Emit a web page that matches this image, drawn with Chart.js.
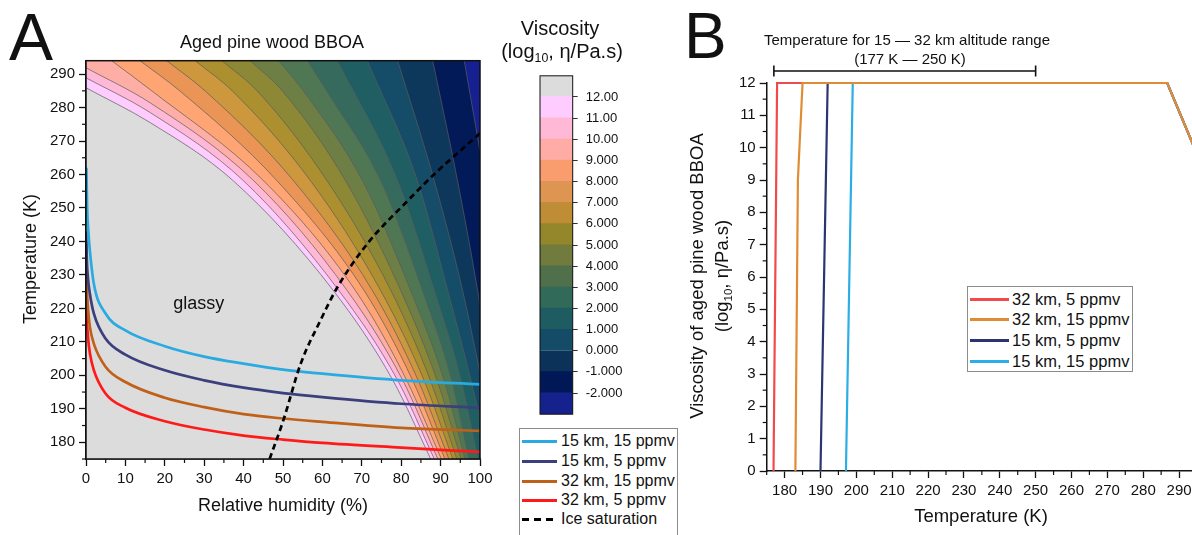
<!DOCTYPE html>
<html>
<head>
<meta charset="utf-8">
<script src="https://cdn.jsdelivr.net/npm/chart.js@4.4.1/dist/chart.umd.min.js"></script>
<style>
html, body { margin: 0; padding: 0; background: #fff; overflow: hidden; }
#page { position: relative; width: 1192px; height: 535px; overflow: hidden; font-family: "Liberation Sans", Arial, sans-serif; color: #111; }
canvas { position: absolute; }
.t { position: absolute; white-space: nowrap; line-height: 1; }
.c { transform: translateX(-50%); }
.r { transform: translate(-50%, -50%) rotate(-90deg); }
sub { font-size: 0.62em; vertical-align: baseline; position: relative; top: 0.32em; line-height: 0; }
.legend { position: absolute; border: 1px solid #8c8c8c; background: #fff; box-sizing: border-box; }
.legend .row { position: absolute; white-space: nowrap; line-height: 1; }
.legend .sw { position: absolute; height: 3px; }
</style>
</head>
<body>
<div id="page">
  <canvas id="chartA" width="500" height="535" style="left:0;top:0"></canvas>
  <canvas id="colorbar" width="110" height="370" style="left:530px;top:60px"></canvas>
  <canvas id="chartB" width="517" height="535" style="left:680px;top:0"></canvas>

  <div class="t" style="left:9px;top:4px;font-size:66px">A</div>
  <div class="t" style="left:684px;top:4px;font-size:64px">B</div>
  <div class="t c" style="left:272px;top:33px;font-size:18px">Aged pine wood BBOA</div>
  <div class="t c" style="left:560px;top:18px;font-size:20px">Viscosity</div>
  <div class="t c" style="left:562px;top:41px;font-size:20px">(log<sub>10</sub>, η/Pa.s)</div>
  <div class="t c" style="left:283px;top:496px;font-size:18px">Relative humidity (%)</div>
  <div class="t r" style="left:30px;top:259px;font-size:18px">Temperature (K)</div>

  <div class="t c" style="left:907px;top:32px;font-size:15px">Temperature for 15 — 32 km altitude range</div>
  <div class="t c" style="left:910px;top:51px;font-size:15px">(177 K — 250 K)</div>
  <div class="t c" style="left:981px;top:507px;font-size:18.5px">Temperature (K)</div>
  <div class="t r" style="left:697px;top:276px;font-size:18.5px">Viscosity of aged pine wood BBOA</div>
  <div class="t r" style="left:722px;top:276px;font-size:18.5px">(log<sub>10</sub>, η/Pa.s)</div>

  <div id="legendA" class="legend" style="left:519px;top:428px;width:159px;height:120px"></div>
  <div id="legendB" class="legend" style="left:967px;top:286px;width:166px;height:86px"></div>
</div>

<script>
const FONT = '"Liberation Sans", Arial, sans-serif';
Chart.defaults.font.family = FONT;
Chart.defaults.color = '#111';

// ---------- panel A: RH / temperature map ----------
const rhTicks = [0, 10, 20, 30, 40, 50, 60, 70, 80, 90, 100];
const tempTicksA = [180, 190, 200, 210, 220, 230, 240, 250, 260, 270, 280, 290];
const rhMin = 0, rhMax = 100, tempMinA = 175, tempMaxA = 294;

// viscosity contour lines as [RH %, T K], from the glassy edge outwards
const contours = [
  [[0, 285.9], [16.3, 275.5], [37.4, 258.1], [62.8, 225.3], [77.9, 198.5], [87.5, 175]],
  [[0, 288.9], [16.3, 278.5], [40.0, 258.1], [64.2, 225.3], [79.1, 198.5], [88.4, 175]],
  [[0, 291.9], [16.3, 281.4], [42.6, 258.1], [66.3, 225.3], [80.4, 198.5], [89.3, 175]],
  [[6.5, 294], [16.8, 284.9], [45.1, 258.1], [68.4, 225.3], [81.4, 198.5], [90.2, 175]],
  [[13.7, 294], [23.9, 284.9], [48.5, 258.1], [70.6, 225.3], [82.9, 198.5], [91.1, 175]],
  [[20.5, 294], [30.3, 284.9], [52.7, 258.1], [72.7, 225.3], [84.3, 198.5], [92.1, 175]],
  [[27.7, 294], [37.2, 284.9], [57.0, 258.1], [74.8, 225.3], [85.8, 198.5], [93.1, 175]],
  [[34.5, 294], [43.5, 284.9], [61.2, 258.1], [77.4, 225.3], [87.4, 198.5], [94.1, 175]],
  [[41.7, 294], [49.9, 284.9], [65.9, 258.1], [79.9, 225.3], [89.1, 198.5], [95.2, 175]],
  [[48.9, 294], [55.2, 284.9], [70.2, 258.1], [82.4, 225.3], [90.9, 198.5], [96.2, 175]],
  [[56.2, 294], [61.1, 284.9], [74.8, 258.1], [85.4, 225.3], [92.8, 198.5], [97.2, 175]],
  [[63.8, 294], [79.1, 258.1], [88.4, 225.3], [95.2, 198.5], [99.5, 175]],
  [[71.4, 294], [84.1, 258.1], [91.8, 225.3], [97.7, 198.5], [100, 186.9]],
  [[79.1, 294], [88.4, 258.1], [95.6, 225.3], [100, 200.9]],
  [[88.0, 294], [94.3, 258.1], [99.4, 225.3], [100, 220.8]],
  [[96.0, 294], [100, 267]]
];
// colour of each band, glassy first
const bandColors = ['#DCDCDC', '#FFCCFF', '#FFB9D6', '#FFAEA6', '#FFA473', '#EA9556', '#CD973E', '#AC9030',
  '#8C8836', '#6E7F45', '#4F7753', '#356A5C', '#1F5E63', '#154D69', '#0D385C', '#021B58', '#172090'];

const t15km15ppmv = [[0.1, 262], [0.3, 250], [0.6, 243], [1, 237], [2, 227.3], [5, 218.4], [10, 213.4], [20, 208.7], [30, 205.6], [40, 203.5], [50, 201.7], [60, 200.5], [80, 198.5], [100, 197.3]];
const t15km5ppmv = [[0.05, 243], [0.2, 235], [0.5, 229], [1, 224.3], [2, 218.4], [5, 210.9], [10, 206.2], [20, 201.5], [30, 198.5], [40, 196.3], [50, 194.7], [60, 193.5], [80, 191.5], [100, 190.3]];
const t32km15ppmv = [[0.05, 234], [0.2, 226.5], [0.5, 220], [1, 214.4], [2, 209.4], [5, 202.5], [10, 198], [20, 193.3], [30, 190.5], [40, 188.4], [50, 187.1], [60, 186.1], [80, 184.3], [100, 183.4]];
const t32km5ppmv = [[0.05, 224], [0.2, 217], [0.5, 211.5], [1, 206.5], [2, 201.5], [5, 194.5], [10, 190.3], [20, 186.3], [30, 183.8], [40, 182], [50, 180.8], [60, 179.8], [80, 178.4], [100, 177.1]];
const iceSaturation = [[46.6, 175], [50.1, 186.6], [54.5, 203.5], [59.5, 216.4], [63.8, 226.3], [71.4, 239.3], [81.6, 252.1], [88.4, 260.1], [100, 272.3]];
const glassyAt = [28.6, 219.7];

const seriesA = [
  {label: '15 km, 15 ppmv', color: '#29ABE2', data: t15km15ppmv},
  {label: '15 km, 5 ppmv', color: '#3B3F7D', data: t15km5ppmv},
  {label: '32 km, 15 ppmv', color: '#C0611A', data: t32km15ppmv},
  {label: '32 km, 5 ppmv', color: '#FF1A1A', data: t32km5ppmv},
  {label: 'Ice saturation', color: '#000', data: iceSaturation, dash: [6, 4]}
];

// ---------- colour bar ----------
const cbLevels = [-2, -1, 0, 1, 2, 3, 4, 5, 6, 7, 8, 9, 10, 11, 12];
const cbEdges = [-3, -2, -1, 0, 1, 2, 3, 4, 5, 6, 7, 8, 9, 10, 11, 12, 13];
const cbColors = ['#15228E', '#011857', '#0B3258', '#144B66', '#1E5C61', '#326A59', '#506F4B', '#707B3D',
  '#94862B', '#BE8D35', '#DF9552', '#F99D6F', '#FFACA6', '#FFB9D6', '#FFCCFF', '#DCDCDC'];

// ---------- panel B: viscosity vs temperature ----------
const tempTicksB = [180, 190, 200, 210, 220, 230, 240, 250, 260, 270, 280, 290];
const viscTicks = [0, 1, 2, 3, 4, 5, 6, 7, 8, 9, 10, 11, 12];
const altitudeRangeK = [177, 250];
const v32km5ppmv = [[176.9, 0], [177.9, 12], [286.7, 12], [295, 9.8]];
const v32km15ppmv = [[183.0, 0], [183.7, 9], [185.0, 12], [286.7, 12], [295, 9.8]];
const v15km5ppmv = [[190.0, 0], [192.0, 12], [286.7, 12], [295, 9.8]];
const v15km15ppmv = [[197.1, 0], [199.0, 12], [286.7, 12], [295, 9.8]];

const seriesB = [
  {label: '32 km, 5 ppmv', color: '#F24A4A', data: v32km5ppmv, order: 3},
  {label: '32 km, 15 ppmv', color: '#E08C35', data: v32km15ppmv, order: 0},
  {label: '15 km, 5 ppmv', color: '#2C3471', data: v15km5ppmv, order: 2},
  {label: '15 km, 15 ppmv', color: '#2BAEE5', data: v15km15ppmv, order: 1}
];

// ---------- helpers ----------
const pts = arr => arr.map(([x, y]) => ({x, y}));
const fixedTicks = list => scale => { scale.ticks = list.map(v => ({value: v})); };

function axis(ticks, min, max, extra) {
  return Object.assign({
    type: 'linear', min, max,
    afterBuildTicks: fixedTicks(ticks),
    grid: {drawOnChartArea: false, tickLength: 7, tickColor: '#111', tickWidth: 1.3},
    border: {display: true, color: '#111', width: 1.5},
    ticks: {font: {size: 15}, color: '#111', autoSkip: false, maxRotation: 0, padding: 4}
  }, extra);
}

const frame = {
  id: 'frame',
  afterDatasetsDraw(chart, args, opts) {
    const a = chart.chartArea, ctx = chart.ctx;
    ctx.save();
    ctx.strokeStyle = '#111';
    ctx.lineWidth = opts.width || 1.5;
    ctx.strokeRect(a.left, a.top, a.right - a.left, a.bottom - a.top);
    ctx.restore();
  }
};

const minorTicks = {
  id: 'minorTicks',
  afterDraw(chart) {
    const ctx = chart.ctx;
    ctx.save();
    ctx.strokeStyle = '#111';
    ctx.lineWidth = 1.2;
    ['x', 'y'].forEach(id => {
      const s = chart.scales[id];
      const v = s.ticks.map(t => t.value);
      const step = v[1] - v[0];
      for (let m = v[0] - step / 2; m <= s.max; m += step) {
        if (m < s.min) continue;
        const p = s.getPixelForValue(m);
        ctx.beginPath();
        if (id === 'x') { ctx.moveTo(p, s.top); ctx.lineTo(p, s.top + 4); }
        else { ctx.moveTo(s.right, p); ctx.lineTo(s.right - 4, p); }
        ctx.stroke();
      }
    });
    ctx.restore();
  }
};

const glassyBg = {
  id: 'glassyBg',
  beforeDatasetsDraw(chart) {
    const a = chart.chartArea, ctx = chart.ctx;
    ctx.save();
    ctx.fillStyle = bandColors[0];
    ctx.fillRect(a.left, a.top, a.right - a.left, a.bottom - a.top);
    ctx.restore();
  },
  afterDatasetsDraw(chart) {
    const ctx = chart.ctx;
    ctx.save();
    ctx.font = '18px ' + FONT;
    ctx.fillStyle = '#111';
    ctx.textAlign = 'center';
    ctx.textBaseline = 'alphabetic';
    ctx.fillText('glassy', chart.scales.x.getPixelForValue(glassyAt[0]), chart.scales.y.getPixelForValue(glassyAt[1]));
    ctx.restore();
  }
};

const rangeBracket = {
  id: 'rangeBracket',
  afterDraw(chart) {
    const x = chart.scales.x, ctx = chart.ctx;
    const x0 = x.getPixelForValue(altitudeRangeK[0]);
    const x1 = x.getPixelForValue(altitudeRangeK[1]);
    const y = chart.chartArea.top - 12;
    ctx.save();
    ctx.strokeStyle = '#111';
    ctx.lineWidth = 1.6;
    ctx.beginPath();
    ctx.moveTo(x0, y); ctx.lineTo(x1, y);
    ctx.moveTo(x0, y - 5.5); ctx.lineTo(x0, y + 5.5);
    ctx.moveTo(x1, y - 5.5); ctx.lineTo(x1, y + 5.5);
    ctx.stroke();
    ctx.restore();
  }
};

// ---------- chart A ----------
const contourSets = contours.map((c, i) => {
  const line = c.slice();
  const last = line[line.length - 1], prev = line[line.length - 2];
  if (last[1] <= tempMinA) {
    // line leaves through the bottom axis: carry it on below the frame so its band closes
    const below = tempMinA - 15;
    const k = (below - last[1]) / (last[1] - prev[1]);
    line.push([last[0] + k * (last[0] - prev[0]), below], [rhMax + 10, below]);
  }
  return {
    data: pts(line), showLine: true, pointRadius: 0,
    borderColor: '#5c5c5c', borderWidth: 0.7,
    backgroundColor: bandColors[i + 1], fill: 'end',
    cubicInterpolationMode: 'monotone', order: 100 - i
  };
});

const lineSetsA = seriesA.map((s, i) => ({
  label: s.label, data: pts(s.data), showLine: true, pointRadius: 0,
  borderColor: s.color, borderWidth: 2.7, borderDash: s.dash || [],
  fill: false, cubicInterpolationMode: 'monotone', order: s.dash ? 0 : i + 1
}));

new Chart(document.getElementById('chartA'), {
  type: 'scatter',
  data: {datasets: contourSets.concat(lineSetsA)},
  options: {
    responsive: false, animation: false, events: [],
    layout: {padding: {top: 60.7, right: 20, left: 0, bottom: 0}},
    elements: {line: {capBezierPoints: false}},
    plugins: {legend: {display: false}, tooltip: {enabled: false}, frame: {width: 1.5}},
    scales: {
      x: axis(rhTicks, rhMin, rhMax, {afterFit: s => { s.height = 76; }}),
      y: axis(tempTicksA, tempMinA, tempMaxA, {afterFit: s => { s.width = 86; }})
    }
  },
  plugins: [glassyBg, frame, minorTicks]
});

// ---------- colour bar ----------
new Chart(document.getElementById('colorbar'), {
  type: 'bar',
  data: {
    labels: [''],
    datasets: cbColors.map((col, i) => ({
      data: [[cbEdges[i], cbEdges[i + 1]]], backgroundColor: col, borderWidth: 0,
      barPercentage: 1, categoryPercentage: 1, grouped: false, inflateAmount: 0.6
    }))
  },
  options: {
    responsive: false, animation: false, events: [],
    layout: {padding: {top: 12.7, bottom: 12.4, left: 10, right: 0}},
    plugins: {legend: {display: false}, tooltip: {enabled: false}, frame: {width: 1}},
    scales: {
      x: {display: false, stacked: true},
      y: {
        type: 'linear', position: 'right', min: cbEdges[0], max: cbEdges[cbEdges.length - 1],
        afterBuildTicks: fixedTicks(cbLevels),
        afterFit: s => { s.width = 67.3; },
        grid: {drawOnChartArea: false, tickLength: 5, tickColor: '#333', tickWidth: 1},
        border: {display: false},
        ticks: {font: {size: 13}, color: '#111', padding: 8, autoSkip: false, callback: v => Number(v).toPrecision(4)}
      }
    }
  },
  plugins: [frame]
});

// ---------- chart B ----------
new Chart(document.getElementById('chartB'), {
  type: 'scatter',
  data: {
    datasets: seriesB.map(s => ({
      label: s.label, data: pts(s.data), showLine: true, pointRadius: 0,
      borderColor: s.color, borderWidth: 2.2, fill: false, order: s.order, clip: 6
    }))
  },
  options: {
    responsive: false, animation: false, events: [],
    layout: {padding: {top: 83, right: 0, left: 0, bottom: 0}},
    plugins: {legend: {display: false}, tooltip: {enabled: false}},
    scales: {
      x: axis(tempTicksB, 175, 295, {afterFit: s => { s.height = 64; }}),
      y: axis(viscTicks, 0, 12, {afterFit: s => { s.width = 86.7; }})
    }
  },
  plugins: [minorTicks, rangeBracket]
});

// ---------- HTML legends ----------
function buildLegend(id, series, rows, swatch, textLeft, size) {
  const box = document.getElementById(id);
  series.forEach((s, i) => {
    const sw = document.createElement('div');
    sw.className = 'sw';
    sw.style.left = swatch[0] + 'px';
    sw.style.width = (swatch[1] - swatch[0]) + 'px';
    sw.style.top = (rows[i] - 1.5) + 'px';
    sw.style.background = s.dash
      ? 'repeating-linear-gradient(90deg,' + s.color + ' 0 7px,transparent 7px 12px)'
      : s.color;
    box.appendChild(sw);
    const tx = document.createElement('div');
    tx.className = 'row';
    tx.style.left = textLeft + 'px';
    tx.style.top = (rows[i] - size / 2) + 'px';
    tx.style.fontSize = size + 'px';
    tx.textContent = s.label;
    box.appendChild(tx);
  });
}
buildLegend('legendA', seriesA, [12, 32, 52, 71, 90], [2, 37], 41, 16);
buildLegend('legendB', seriesB, [12.3, 32.7, 53.7, 74], [2, 41], 44, 16.5);
</script>
</body>
</html>
